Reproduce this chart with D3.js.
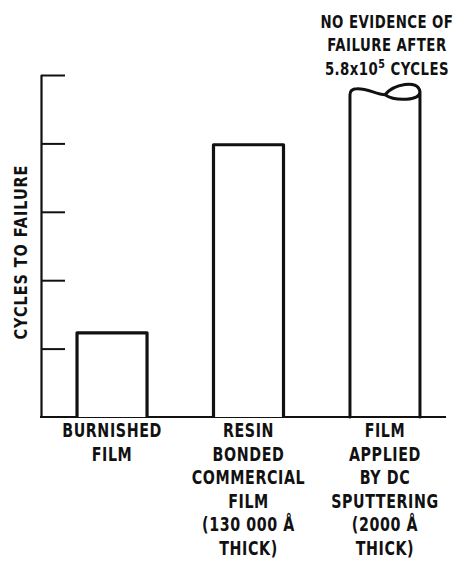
<!DOCTYPE html>
<html>
<head>
<meta charset="utf-8">
<script src="https://cdn.jsdelivr.net/npm/d3@7"></script>
<style>
  html, body { margin: 0; padding: 0; background: #fff; }
  svg { display: block; }
  text { font-family: "DejaVu Sans", sans-serif; fill: #111; }
</style>
</head>
<body>
<svg id="chart" width="459" height="563"></svg>
<script>
// Cycles to failure for three MoS2 film types (arbitrary linear units, no tick labels)
const categories = ["burnished", "resin", "sputtered"];
const categoryLabels = [
  ["BURNISHED", "FILM"],
  ["RESIN", "BONDED", "COMMERCIAL", "FILM", "(130 000 Å", "THICK)"],
  ["FILM", "APPLIED", "BY DC", "SPUTTERING", "(2000 Å", "THICK)"]
];
const values = [1.23, 3.98, 4.8];
const brokenTop = [false, false, true];   // sputtered film never failed: bar drawn with a break
const yTicks = [0, 1, 2, 3, 4, 5];
const yTitle = "CYCLES TO FAILURE";
const noteLines = ["NO EVIDENCE OF", "FAILURE AFTER"];
const noteLast = { base: "5.8x10", exp: "5", tail: " CYCLES" };

const svg = d3.select("#chart");
const ink = "#111";
const squeeze = 0.75;   // horizontal condensing of the lettering

const x = d3.scaleBand()
  .domain(categories)
  .range([41, 456])
  .paddingInner(0.487)
  .paddingOuter(0.264);

const y = d3.scaleLinear().domain([0, 5]).range([417, 75]);

// Axis: vertical spine with inward ticks, no labels
const axis = d3.axisLeft(y).tickValues(yTicks.slice(1)).tickSize(-24).tickFormat("");
const gA = svg.append("g").attr("transform", "translate(41,0)").call(axis);
gA.select(".domain").attr("d", `M0.5,${y(5)}V${y(0)}`).attr("stroke", ink).attr("stroke-width", 2.2);
gA.selectAll(".tick line").attr("stroke", ink).attr("stroke-width", 2);

// Baseline
svg.append("line")
  .attr("x1", 40).attr("x2", 446)
  .attr("y1", y(0)).attr("y2", y(0))
  .attr("stroke", ink).attr("stroke-width", 2.2);

// Bars
categories.forEach((c, i) => {
  const x0 = x(c), bw = x.bandwidth(), x1 = x0 + bw;
  const yT = y(values[i]), yB = y(0);
  if (!brokenTop[i]) {
    svg.append("path")
      .attr("d", `M${x0},${yB}V${yT}H${x1}V${yB}`)
      .attr("fill", "#fff").attr("stroke", ink).attr("stroke-width", 3.2)
      .attr("stroke-linejoin", "round");
  } else {
    const px = x0 + bw * 0.5, py = yT + 6;   // crossing point of the break lobe
    const p = d3.path();
    p.moveTo(x0, yB);
    p.lineTo(x0, yT + 6);
    p.quadraticCurveTo(x0, yT, x0 + 7, yT);
    p.bezierCurveTo(x0 + bw * 0.25, yT - 0.5, x0 + bw * 0.38, py, px, py);
    // upper arc of the lobe
    p.bezierCurveTo(px + bw * 0.12, py - 10, x1 - 2, yT - 10, x1, yT + 3);
    p.moveTo(px, py);
    // lower arc of the lobe
    p.bezierCurveTo(px + bw * 0.15, py + 7, x1, yT + 12, x1, yT + 3);
    p.lineTo(x1, yB);
    svg.append("path")
      .attr("d", p.toString())
      .attr("fill", "none").attr("stroke", ink).attr("stroke-width", 3)
      .attr("stroke-linejoin", "round").attr("stroke-linecap", "round");
  }
});

// Category labels (condensed bold capitals)
categories.forEach((c, i) => {
  const cx = x(c) + x.bandwidth() / 2;
  const t = svg.append("g").attr("transform", `translate(${cx},0) scale(${squeeze},1)`)
    .append("text").attr("text-anchor", "middle")
    .style("font-size", "19px").style("font-weight", "bold").style("letter-spacing", "0.8px");
  categoryLabels[i].forEach((line, j) => {
    t.append("tspan").attr("x", 0).attr("y", 437 + j * 23.6).text(line);
  });
});

// Y title
svg.append("text")
  .attr("transform", `translate(27,252) rotate(-90) scale(0.85,1)`)
  .attr("text-anchor", "middle")
  .style("font-size", "17px")
  .style("font-weight", "bold")
  .style("letter-spacing", "1.1px")
  .text(yTitle);

// Note above the bar that never failed
const nx = x("sputtered") + x.bandwidth() / 2 + 2;
const note = svg.append("g").attr("transform", `translate(${nx},0) scale(0.74,1)`)
  .append("text").attr("text-anchor", "middle")
  .style("font-size", "18px").style("font-weight", "bold").style("letter-spacing", "0.6px");
noteLines.forEach((line, j) => {
  note.append("tspan").attr("x", 0).attr("y", 28 + j * 23).text(line);
});
const last = note.append("tspan").attr("x", 0).attr("y", 75);
last.append("tspan").text(noteLast.base);
last.append("tspan").attr("dy", -7).style("font-size", "13px").text(noteLast.exp);
last.append("tspan").attr("dy", 7).text(noteLast.tail);
</script>
</body>
</html>
